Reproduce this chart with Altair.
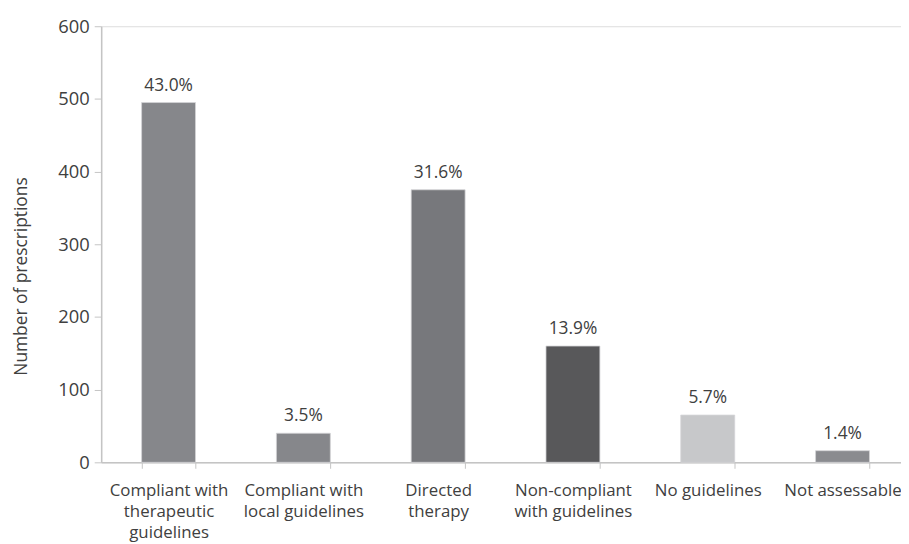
import altair as alt
import pandas as pd

categories = [
    "Compliant with|therapeutic|guidelines",
    "Compliant with|local guidelines",
    "Directed|therapy",
    "Non-compliant|with guidelines",
    "No guidelines",
    "Not assessable",
]
values = [495, 40, 375, 160, 65, 16]
pct_labels = ["43.0%", "3.5%", "31.6%", "13.9%", "5.7%", "1.4%"]
colors = ["#86878b", "#86878b", "#77787c", "#58585a", "#c7c8ca", "#8a8b8f"]

df = pd.DataFrame({"cat": categories, "val": values, "pct": pct_labels, "color": colors})

FONT = "Open Sans"
W = 400
TXT = "#404040"
AX = "#c4c4c4"

x = alt.X(
    "cat:N",
    sort=categories,
    scale=alt.Scale(range=[0, 816], paddingInner=0.6, paddingOuter=0.3),
    axis=alt.Axis(
        title=None,
        labelAngle=0,
        labelExpr="split(datum.label, '|')",
        labelFont=FONT,
        labelFontWeight=W,
        labelFontSize=17,
        labelColor=TXT,
        labelLineHeight=21.5,
        labelPadding=14,
        labelLimit=200,
        tickBand="extent",
        tickSize=6,
        tickColor=AX,
        domainColor=AX,
        domainWidth=1.5,
    ),
)

y = alt.Y(
    "val:Q",
    scale=alt.Scale(domain=[0, 600]),
    axis=alt.Axis(
        title="Number of prescriptions",
        values=[0, 100, 200, 300, 400, 500, 600],
        grid=False,
        labelFont=FONT,
        labelFontWeight=W,
        labelFontSize=18.5,
        labelColor=TXT,
        labelPadding=5,
        tickSize=7,
        tickColor=AX,
        domainColor=AX,
        domainWidth=1.5,
        titleFont=FONT,
        titleFontSize=17.5,
        titleFontWeight=W,
        titleColor=TXT,
        titleX=-80,
        titleY=252,
        titleBaseline="middle",
    ),
)

bars = alt.Chart(df).mark_bar(stroke="#d4d4d6", strokeWidth=0.8).encode(
    x=x, y=y, color=alt.Color("color:N", scale=None)
)

text = alt.Chart(df).mark_text(
    baseline="bottom", dy=-8, font=FONT, fontWeight=W, fontSize=17.5, color=TXT
).encode(x=alt.X("cat:N", sort=categories), y="val:Q", text="pct:N")

chart = (
    alt.layer(bars, text)
    .properties(
        width=807,
        height=440,
        autosize=alt.AutoSizeParams(type="none"),
        padding={"left": 94, "top": 16, "right": 0, "bottom": 80},
    )
    .configure_view(stroke=None)
    .configure(background="white")
)

chart.save("out.html", embed_options={"renderer": "svg", "actions": False})
